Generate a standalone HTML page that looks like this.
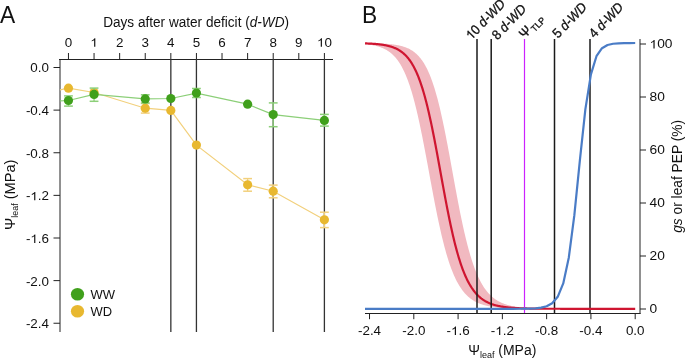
<!DOCTYPE html>
<html><head><meta charset="utf-8"><style>
html,body{margin:0;padding:0;background:#fff;width:685px;height:359px;overflow:hidden;}
svg{display:block;will-change:transform;}
text{font-family:"Liberation Sans", sans-serif;fill:#111;}
path{fill:#111;vector-effect:non-scaling-stroke;}
</style></head><body>
<svg width="685" height="359" viewBox="0 0 685 359">
<text transform="translate(0,22.7) scale(0.99,1)" font-size="23">A</text>
<text x="103.2" y="26.8" font-size="14.7" textLength="185.8" lengthAdjust="spacingAndGlyphs">Days after water deficit (<tspan font-style="italic">d-WD</tspan>)</text>
<line x1="59" y1="59.5" x2="333" y2="59.5" stroke="#222" stroke-width="1"/>
<line x1="68.46" y1="53" x2="68.46" y2="59.5" stroke="#222" stroke-width="1"/>
<g transform="translate(68.46,46.70) scale(1.1,1)"><text x="-3.393" y="0" font-size="12.2">0</text></g>
<line x1="94.05" y1="53" x2="94.05" y2="59.5" stroke="#222" stroke-width="1"/>
<g transform="translate(94.05,46.70) scale(1.1,1)"><text x="-3.393" y="0" font-size="12.2">&#8199;</text><path transform="translate(-3.393,0) scale(0.005957,-0.005957)" d="M763,0L583,0L583,1098Q518,1038 412,979Q307,920 223,890L223,1057Q374,1125 487,1221Q600,1318 647,1409L763,1409Z"/></g>
<line x1="119.65" y1="53" x2="119.65" y2="59.5" stroke="#222" stroke-width="1"/>
<g transform="translate(119.65,46.70) scale(1.1,1)"><text x="-3.393" y="0" font-size="12.2">2</text></g>
<line x1="145.24" y1="53" x2="145.24" y2="59.5" stroke="#222" stroke-width="1"/>
<g transform="translate(145.24,46.70) scale(1.1,1)"><text x="-3.393" y="0" font-size="12.2">3</text></g>
<line x1="170.84" y1="53" x2="170.84" y2="59.5" stroke="#222" stroke-width="1"/>
<g transform="translate(170.84,46.70) scale(1.1,1)"><text x="-3.393" y="0" font-size="12.2">4</text></g>
<line x1="196.43" y1="53" x2="196.43" y2="59.5" stroke="#222" stroke-width="1"/>
<g transform="translate(196.43,46.70) scale(1.1,1)"><text x="-3.393" y="0" font-size="12.2">5</text></g>
<line x1="222.02" y1="53" x2="222.02" y2="59.5" stroke="#222" stroke-width="1"/>
<g transform="translate(222.02,46.70) scale(1.1,1)"><text x="-3.393" y="0" font-size="12.2">6</text></g>
<line x1="247.62" y1="53" x2="247.62" y2="59.5" stroke="#222" stroke-width="1"/>
<g transform="translate(247.62,46.70) scale(1.1,1)"><text x="-3.393" y="0" font-size="12.2">7</text></g>
<line x1="273.21" y1="53" x2="273.21" y2="59.5" stroke="#222" stroke-width="1"/>
<g transform="translate(273.21,46.70) scale(1.1,1)"><text x="-3.393" y="0" font-size="12.2">8</text></g>
<line x1="298.81" y1="53" x2="298.81" y2="59.5" stroke="#222" stroke-width="1"/>
<g transform="translate(298.81,46.70) scale(1.1,1)"><text x="-3.393" y="0" font-size="12.2">9</text></g>
<line x1="324.40" y1="53" x2="324.40" y2="59.5" stroke="#222" stroke-width="1"/>
<g transform="translate(324.40,46.70) scale(1.1,1)"><text x="-6.785" y="0" font-size="12.2">&#8199;0</text><path transform="translate(-6.785,0) scale(0.005957,-0.005957)" d="M763,0L583,0L583,1098Q518,1038 412,979Q307,920 223,890L223,1057Q374,1125 487,1221Q600,1318 647,1409L763,1409Z"/></g>
<line x1="60" y1="59" x2="60" y2="332" stroke="#222" stroke-width="1"/>
<line x1="53.5" y1="67.50" x2="60" y2="67.50" stroke="#222" stroke-width="1"/>
<g transform="translate(49.00,72.40) scale(1.1,1)"><text x="-16.960" y="0" font-size="12.2">0.0</text></g>
<line x1="53.5" y1="110.12" x2="60" y2="110.12" stroke="#222" stroke-width="1"/>
<g transform="translate(49.00,115.02) scale(1.1,1)"><text x="-21.022" y="0" font-size="12.2">-0.4</text></g>
<line x1="53.5" y1="152.75" x2="60" y2="152.75" stroke="#222" stroke-width="1"/>
<g transform="translate(49.00,157.65) scale(1.1,1)"><text x="-21.022" y="0" font-size="12.2">-0.8</text></g>
<line x1="53.5" y1="195.37" x2="60" y2="195.37" stroke="#222" stroke-width="1"/>
<g transform="translate(49.00,200.27) scale(1.1,1)"><text x="-21.022" y="0" font-size="12.2">-&#8199;.2</text><path transform="translate(-16.960,0) scale(0.005957,-0.005957)" d="M763,0L583,0L583,1098Q518,1038 412,979Q307,920 223,890L223,1057Q374,1125 487,1221Q600,1318 647,1409L763,1409Z"/></g>
<line x1="53.5" y1="238.00" x2="60" y2="238.00" stroke="#222" stroke-width="1"/>
<g transform="translate(49.00,242.90) scale(1.1,1)"><text x="-21.022" y="0" font-size="12.2">-&#8199;.6</text><path transform="translate(-16.960,0) scale(0.005957,-0.005957)" d="M763,0L583,0L583,1098Q518,1038 412,979Q307,920 223,890L223,1057Q374,1125 487,1221Q600,1318 647,1409L763,1409Z"/></g>
<line x1="53.5" y1="280.62" x2="60" y2="280.62" stroke="#222" stroke-width="1"/>
<g transform="translate(49.00,285.52) scale(1.1,1)"><text x="-21.022" y="0" font-size="12.2">-2.0</text></g>
<line x1="53.5" y1="323.24" x2="60" y2="323.24" stroke="#222" stroke-width="1"/>
<g transform="translate(49.00,328.14) scale(1.1,1)"><text x="-21.022" y="0" font-size="12.2">-2.4</text></g>
<text transform="translate(14.5,194.8) rotate(-90)" text-anchor="middle" font-size="14.6">&#936;<tspan font-size="9" dy="3">leaf</tspan><tspan dy="-3"> (MPa)</tspan></text>
<line x1="170.84" y1="59" x2="170.84" y2="332" stroke="#333" stroke-width="1.3"/>
<line x1="196.43" y1="59" x2="196.43" y2="332" stroke="#333" stroke-width="1.3"/>
<line x1="273.21" y1="59" x2="273.21" y2="332" stroke="#333" stroke-width="1.3"/>
<line x1="324.40" y1="59" x2="324.40" y2="332" stroke="#333" stroke-width="1.3"/>
<polyline points="60.00,89.90 68.46,88.20 94.05,92.50 145.24,108.20 170.84,110.40 196.43,145.10 247.62,184.80 273.21,191.20 324.40,219.80" fill="none" stroke="#f2d07c" stroke-width="1.2"/>
<line x1="145.24" y1="103.50" x2="145.24" y2="113.10" stroke="#f2d07c" stroke-width="1.3"/>
<line x1="140.84" y1="103.50" x2="149.64" y2="103.50" stroke="#f2d07c" stroke-width="1.5"/>
<line x1="140.84" y1="113.10" x2="149.64" y2="113.10" stroke="#f2d07c" stroke-width="1.5"/>
<line x1="247.62" y1="178.60" x2="247.62" y2="191.20" stroke="#f2d07c" stroke-width="1.3"/>
<line x1="243.22" y1="178.60" x2="252.02" y2="178.60" stroke="#f2d07c" stroke-width="1.5"/>
<line x1="243.22" y1="191.20" x2="252.02" y2="191.20" stroke="#f2d07c" stroke-width="1.5"/>
<line x1="273.21" y1="185.10" x2="273.21" y2="197.80" stroke="#f2d07c" stroke-width="1.3"/>
<line x1="268.81" y1="185.10" x2="277.61" y2="185.10" stroke="#f2d07c" stroke-width="1.5"/>
<line x1="268.81" y1="197.80" x2="277.61" y2="197.80" stroke="#f2d07c" stroke-width="1.5"/>
<line x1="324.40" y1="212.20" x2="324.40" y2="227.60" stroke="#f2d07c" stroke-width="1.3"/>
<line x1="320.00" y1="212.20" x2="328.80" y2="212.20" stroke="#f2d07c" stroke-width="1.5"/>
<line x1="320.00" y1="227.60" x2="328.80" y2="227.60" stroke="#f2d07c" stroke-width="1.5"/>
<circle cx="68.46" cy="88.20" r="4.6" fill="#e8b830"/>
<circle cx="94.05" cy="92.50" r="4.6" fill="#e8b830"/>
<circle cx="145.24" cy="108.20" r="4.6" fill="#e8b830"/>
<circle cx="170.84" cy="110.40" r="4.6" fill="#e8b830"/>
<circle cx="196.43" cy="145.10" r="4.6" fill="#e8b830"/>
<circle cx="247.62" cy="184.80" r="4.6" fill="#e8b830"/>
<circle cx="273.21" cy="191.20" r="4.6" fill="#e8b830"/>
<circle cx="324.40" cy="219.80" r="4.6" fill="#e8b830"/>
<polyline points="60.00,100.90 68.46,100.50 94.05,94.40 145.24,98.90 170.84,98.50 196.43,93.10 247.62,104.20 273.21,114.60 324.40,120.40" fill="none" stroke="#8ccf78" stroke-width="1.2"/>
<line x1="68.46" y1="95.90" x2="68.46" y2="106.10" stroke="#8ccf78" stroke-width="1.3"/>
<line x1="64.06" y1="95.90" x2="72.86" y2="95.90" stroke="#8ccf78" stroke-width="1.5"/>
<line x1="64.06" y1="106.10" x2="72.86" y2="106.10" stroke="#8ccf78" stroke-width="1.5"/>
<line x1="94.05" y1="88.10" x2="94.05" y2="101.30" stroke="#8ccf78" stroke-width="1.3"/>
<line x1="89.65" y1="88.10" x2="98.45" y2="88.10" stroke="#8ccf78" stroke-width="1.5"/>
<line x1="89.65" y1="101.30" x2="98.45" y2="101.30" stroke="#8ccf78" stroke-width="1.5"/>
<line x1="145.24" y1="94.80" x2="145.24" y2="103.00" stroke="#8ccf78" stroke-width="1.3"/>
<line x1="140.84" y1="94.80" x2="149.64" y2="94.80" stroke="#8ccf78" stroke-width="1.5"/>
<line x1="140.84" y1="103.00" x2="149.64" y2="103.00" stroke="#8ccf78" stroke-width="1.5"/>
<line x1="196.43" y1="88.50" x2="196.43" y2="97.50" stroke="#8ccf78" stroke-width="1.3"/>
<line x1="192.03" y1="88.50" x2="200.83" y2="88.50" stroke="#8ccf78" stroke-width="1.5"/>
<line x1="192.03" y1="97.50" x2="200.83" y2="97.50" stroke="#8ccf78" stroke-width="1.5"/>
<line x1="273.21" y1="102.90" x2="273.21" y2="126.70" stroke="#8ccf78" stroke-width="1.3"/>
<line x1="268.81" y1="102.90" x2="277.61" y2="102.90" stroke="#8ccf78" stroke-width="1.5"/>
<line x1="268.81" y1="126.70" x2="277.61" y2="126.70" stroke="#8ccf78" stroke-width="1.5"/>
<line x1="324.40" y1="114.40" x2="324.40" y2="126.10" stroke="#8ccf78" stroke-width="1.3"/>
<line x1="320.00" y1="114.40" x2="328.80" y2="114.40" stroke="#8ccf78" stroke-width="1.5"/>
<line x1="320.00" y1="126.10" x2="328.80" y2="126.10" stroke="#8ccf78" stroke-width="1.5"/>
<circle cx="68.46" cy="100.50" r="4.6" fill="#40a01c"/>
<circle cx="94.05" cy="94.40" r="4.6" fill="#40a01c"/>
<circle cx="145.24" cy="98.90" r="4.6" fill="#40a01c"/>
<circle cx="170.84" cy="98.50" r="4.6" fill="#40a01c"/>
<circle cx="196.43" cy="93.10" r="4.6" fill="#40a01c"/>
<circle cx="247.62" cy="104.20" r="4.6" fill="#40a01c"/>
<circle cx="273.21" cy="114.60" r="4.6" fill="#40a01c"/>
<circle cx="324.40" cy="120.40" r="4.6" fill="#40a01c"/>
<ellipse cx="77.5" cy="294.2" rx="6.6" ry="6.3" fill="#40a01c"/>
<ellipse cx="77.5" cy="311.2" rx="6.6" ry="6.3" fill="#e8b830"/>
<text x="90.5" y="299" font-size="12.6" textLength="24.6" lengthAdjust="spacingAndGlyphs">WW</text>
<text x="90.5" y="316" font-size="12.6" textLength="21.6" lengthAdjust="spacingAndGlyphs">WD</text>
<text transform="translate(361.9,22.7) scale(0.99,1)" font-size="23">B</text>
<line x1="554.5" y1="39" x2="554.5" y2="313.5" stroke="#1a1a1a" stroke-width="1.5"/>
<line x1="590.0" y1="39" x2="590.0" y2="313.5" stroke="#1a1a1a" stroke-width="1.5"/>
<polygon points="365.00,44.17 365.50,44.22 366.00,44.27 366.50,44.33 367.00,44.38 367.50,44.44 368.00,44.50 368.50,44.57 369.00,44.64 369.50,44.71 370.00,44.78 370.50,44.86 371.00,44.94 371.50,45.02 372.00,45.10 372.50,45.19 373.00,45.29 373.50,45.39 374.00,45.49 374.50,45.60 375.00,45.71 375.50,45.82 376.00,45.94 376.50,46.07 377.00,46.20 377.50,46.33 378.00,46.48 378.50,46.62 379.00,46.78 379.50,46.94 380.00,47.11 380.50,47.28 381.00,47.46 381.50,47.65 382.00,47.85 382.50,48.05 383.00,48.27 383.50,48.49 384.00,48.72 384.50,48.96 385.00,49.21 385.50,49.47 386.00,49.75 386.50,50.03 387.00,50.32 387.50,50.63 388.00,50.95 388.50,51.28 389.00,51.63 389.50,51.98 390.00,52.36 390.50,52.75 391.00,53.15 391.50,53.57 392.00,54.01 392.50,54.46 393.00,54.93 393.50,55.42 394.00,55.93 394.50,56.46 395.00,57.01 395.50,57.58 396.00,58.17 396.50,58.78 397.00,59.42 397.50,60.08 398.00,60.76 398.50,61.48 399.00,62.21 399.50,62.98 400.00,63.77 400.50,64.59 401.00,65.44 401.50,66.31 402.00,67.22 402.50,68.17 403.00,69.14 403.50,70.15 404.00,71.19 404.50,72.26 405.00,73.38 405.50,74.52 406.00,75.71 406.50,76.93 407.00,78.19 407.50,79.49 408.00,80.83 408.50,82.21 409.00,83.63 409.50,85.09 410.00,86.60 410.50,88.14 411.00,89.73 411.50,91.36 412.00,93.04 412.50,94.76 413.00,96.52 413.50,98.32 414.00,100.17 414.50,102.07 415.00,104.00 415.50,105.98 416.00,108.01 416.50,110.07 417.00,112.18 417.50,114.32 418.00,116.51 418.50,118.74 419.00,121.01 419.50,123.31 420.00,125.65 420.50,128.03 421.00,130.44 421.50,132.88 422.00,135.36 422.50,137.86 423.00,140.39 423.50,142.95 424.00,145.53 424.50,148.14 425.00,150.76 425.50,153.41 426.00,156.07 426.50,158.74 427.00,161.43 427.50,164.12 428.00,166.83 428.50,169.54 429.00,172.25 429.50,174.96 430.00,177.67 430.50,180.38 431.00,183.08 431.50,185.77 432.00,188.45 432.50,191.12 433.00,193.77 433.50,196.41 434.00,199.03 434.50,201.63 435.00,204.20 435.50,206.75 436.00,209.27 436.50,211.77 437.00,214.24 437.50,216.67 438.00,219.07 438.50,221.44 439.00,223.78 439.50,226.08 440.00,228.34 440.50,230.57 441.00,232.75 441.50,234.90 442.00,237.01 442.50,239.08 443.00,241.10 443.50,243.09 444.00,245.04 444.50,246.94 445.00,248.80 445.50,250.62 446.00,252.40 446.50,254.13 447.00,255.83 447.50,257.48 448.00,259.10 448.50,260.67 449.00,262.20 449.50,263.69 450.00,265.15 450.50,266.56 451.00,267.93 451.50,269.27 452.00,270.57 452.50,271.84 453.00,273.06 453.50,274.25 454.00,275.41 454.50,276.53 455.00,277.62 455.50,278.68 456.00,279.70 456.50,280.70 457.00,281.66 457.50,282.59 458.00,283.50 458.50,284.37 459.00,285.22 459.50,286.04 460.00,286.83 460.50,287.60 461.00,288.34 461.50,289.06 462.00,289.75 462.50,290.43 463.00,291.08 463.50,291.70 464.00,292.31 464.50,292.90 465.00,293.46 465.50,294.01 466.00,294.54 466.50,295.05 467.00,295.54 467.50,296.02 468.00,296.48 468.50,296.92 469.00,297.35 469.50,297.76 470.00,298.16 470.50,298.55 471.00,298.92 471.50,299.28 472.00,299.62 472.50,299.96 473.00,300.28 473.50,300.59 474.00,300.89 474.50,301.17 475.00,301.45 475.50,301.72 476.00,301.98 476.50,302.23 477.00,302.47 477.50,302.70 478.00,302.92 478.50,303.14 479.00,303.35 479.50,303.55 480.00,303.74 480.50,303.93 481.00,304.11 481.50,304.28 482.00,304.44 482.50,304.61 483.00,304.76 483.50,304.91 484.00,305.05 484.50,305.19 485.00,305.32 485.50,305.45 486.00,305.57 486.50,305.69 487.00,305.81 487.50,305.92 488.00,306.03 488.50,306.13 489.00,306.23 489.50,306.32 490.00,306.41 490.50,306.50 491.00,306.59 491.50,306.67 492.00,306.75 492.50,306.82 493.00,306.90 493.50,306.97 494.00,307.03 494.50,307.10 495.00,307.16 495.50,307.22 496.00,307.28 496.50,307.34 497.00,307.39 497.50,307.44 498.00,307.49 498.50,307.54 499.00,307.59 499.50,307.63 500.00,307.68 500.50,307.72 501.00,307.76 501.50,307.80 502.00,307.84 502.50,307.87 503.00,307.91 503.50,307.94 504.00,307.97 504.50,308.00 505.00,308.03 505.50,308.06 506.00,308.09 506.50,308.11 507.00,308.14 507.50,308.16 508.00,308.19 508.50,308.21 509.00,308.23 509.50,308.25 510.00,308.27 510.50,308.29 511.00,308.31 511.50,308.33 512.00,308.35 512.50,308.36 513.00,308.38 513.50,308.40 514.00,308.41 514.50,308.43 515.00,308.44 515.50,308.45 516.00,308.47 516.50,308.48 517.00,308.49 517.50,308.50 518.00,308.51 518.50,308.52 519.00,308.53 519.50,308.54 520.00,308.55 520.50,308.56 521.00,308.57 521.50,308.58 522.00,308.59 522.50,308.60 523.00,308.60 523.50,308.61 524.00,308.62 524.50,308.62 525.00,308.63 525.50,308.64 526.00,308.64 526.50,308.65 527.00,308.65 527.50,308.66 528.00,308.67 528.50,308.67 529.00,308.68 529.50,308.68 530.00,308.68 530.50,308.69 531.00,308.69 531.50,308.70 532.00,308.70 532.50,308.70 533.00,308.71 533.50,308.71 534.00,308.71 534.50,308.72 535.00,308.72 535.50,308.72 536.00,308.73 536.50,308.73 537.00,308.73 537.50,308.73 538.00,308.74 538.50,308.74 539.00,308.74 539.50,308.74 540.00,308.75 540.50,308.75 541.00,308.75 541.50,308.75 542.00,308.75 542.50,308.76 543.00,308.76 543.50,308.76 544.00,308.76 544.50,308.76 545.00,308.76 545.50,308.76 546.00,308.77 546.50,308.77 547.00,308.77 547.50,308.77 548.00,308.77 548.50,308.77 549.00,308.77 549.50,308.77 550.00,308.77 550.50,308.78 551.00,308.78 551.50,308.78 552.00,308.78 552.50,308.78 553.00,308.78 553.50,308.78 554.00,308.78 554.50,308.78 555.00,308.78 555.50,308.78 556.00,308.78 556.50,308.78 557.00,308.79 557.50,308.79 558.00,308.79 558.50,308.79 559.00,308.79 559.50,308.79 560.00,308.79 560.50,308.79 561.00,308.79 561.50,308.79 562.00,308.79 562.50,308.79 563.00,308.79 563.50,308.79 564.00,308.79 564.50,308.79 565.00,308.79 565.50,308.79 566.00,308.79 566.50,308.79 567.00,308.79 567.50,308.79 568.00,308.79 568.50,308.79 569.00,308.79 569.50,308.79 570.00,308.79 570.50,308.79 571.00,308.79 571.50,308.80 572.00,308.80 572.50,308.80 573.00,308.80 573.50,308.80 574.00,308.80 574.50,308.80 575.00,308.80 575.50,308.80 576.00,308.80 576.50,308.80 577.00,308.80 577.50,308.80 578.00,308.80 578.50,308.80 579.00,308.80 579.50,308.80 580.00,308.80 580.50,308.80 581.00,308.80 581.50,308.80 582.00,308.80 582.50,308.80 583.00,308.80 583.50,308.80 584.00,308.80 584.50,308.80 585.00,308.80 585.50,308.80 586.00,308.80 586.50,308.80 587.00,308.80 587.50,308.80 588.00,308.80 588.50,308.80 589.00,308.80 589.50,308.80 590.00,308.80 590.50,308.80 591.00,308.80 591.50,308.80 592.00,308.80 592.50,308.80 593.00,308.80 593.50,308.80 594.00,308.80 594.50,308.80 595.00,308.80 595.50,308.80 596.00,308.80 596.50,308.80 597.00,308.80 597.50,308.80 598.00,308.80 598.50,308.80 599.00,308.80 599.50,308.80 600.00,308.80 600.50,308.80 601.00,308.80 601.50,308.80 602.00,308.80 602.50,308.80 603.00,308.80 603.50,308.80 604.00,308.80 604.50,308.80 605.00,308.80 605.50,308.80 606.00,308.80 606.50,308.80 607.00,308.80 607.50,308.80 608.00,308.80 608.50,308.80 609.00,308.80 609.50,308.80 610.00,308.80 610.50,308.80 611.00,308.80 611.50,308.80 612.00,308.80 612.50,308.80 613.00,308.80 613.50,308.80 614.00,308.80 614.50,308.80 615.00,308.80 615.50,308.80 616.00,308.80 616.50,308.80 617.00,308.80 617.50,308.80 618.00,308.80 618.50,308.80 619.00,308.80 619.50,308.80 620.00,308.80 620.50,308.80 621.00,308.80 621.50,308.80 622.00,308.80 622.50,308.80 623.00,308.80 623.50,308.80 624.00,308.80 624.50,308.80 625.00,308.80 625.50,308.80 626.00,308.80 626.50,308.80 627.00,308.80 627.50,308.80 628.00,308.80 628.50,308.80 629.00,308.80 629.50,308.80 630.00,308.80 630.50,308.80 631.00,308.80 631.50,308.80 632.00,308.80 632.50,308.80 633.00,308.80 633.50,308.80 634.00,308.80 634.50,308.80 635.00,308.80 635.20,308.80 635.20,308.80 635.00,308.80 634.50,308.80 634.00,308.80 633.50,308.80 633.00,308.80 632.50,308.80 632.00,308.80 631.50,308.80 631.00,308.80 630.50,308.80 630.00,308.80 629.50,308.80 629.00,308.80 628.50,308.80 628.00,308.80 627.50,308.80 627.00,308.80 626.50,308.80 626.00,308.80 625.50,308.80 625.00,308.80 624.50,308.80 624.00,308.80 623.50,308.80 623.00,308.80 622.50,308.80 622.00,308.80 621.50,308.80 621.00,308.80 620.50,308.80 620.00,308.80 619.50,308.80 619.00,308.80 618.50,308.80 618.00,308.80 617.50,308.80 617.00,308.80 616.50,308.80 616.00,308.80 615.50,308.80 615.00,308.80 614.50,308.80 614.00,308.80 613.50,308.80 613.00,308.80 612.50,308.80 612.00,308.80 611.50,308.80 611.00,308.80 610.50,308.80 610.00,308.80 609.50,308.80 609.00,308.80 608.50,308.80 608.00,308.80 607.50,308.80 607.00,308.80 606.50,308.80 606.00,308.80 605.50,308.80 605.00,308.80 604.50,308.80 604.00,308.80 603.50,308.80 603.00,308.80 602.50,308.80 602.00,308.80 601.50,308.80 601.00,308.80 600.50,308.80 600.00,308.80 599.50,308.80 599.00,308.80 598.50,308.80 598.00,308.80 597.50,308.79 597.00,308.79 596.50,308.79 596.00,308.79 595.50,308.79 595.00,308.79 594.50,308.79 594.00,308.79 593.50,308.79 593.00,308.79 592.50,308.79 592.00,308.79 591.50,308.79 591.00,308.79 590.50,308.79 590.00,308.79 589.50,308.79 589.00,308.79 588.50,308.79 588.00,308.79 587.50,308.79 587.00,308.79 586.50,308.79 586.00,308.79 585.50,308.79 585.00,308.79 584.50,308.79 584.00,308.79 583.50,308.79 583.00,308.79 582.50,308.78 582.00,308.78 581.50,308.78 581.00,308.78 580.50,308.78 580.00,308.78 579.50,308.78 579.00,308.78 578.50,308.78 578.00,308.78 577.50,308.78 577.00,308.78 576.50,308.78 576.00,308.77 575.50,308.77 575.00,308.77 574.50,308.77 574.00,308.77 573.50,308.77 573.00,308.77 572.50,308.77 572.00,308.77 571.50,308.77 571.00,308.76 570.50,308.76 570.00,308.76 569.50,308.76 569.00,308.76 568.50,308.76 568.00,308.75 567.50,308.75 567.00,308.75 566.50,308.75 566.00,308.75 565.50,308.75 565.00,308.74 564.50,308.74 564.00,308.74 563.50,308.74 563.00,308.73 562.50,308.73 562.00,308.73 561.50,308.73 561.00,308.72 560.50,308.72 560.00,308.72 559.50,308.72 559.00,308.71 558.50,308.71 558.00,308.71 557.50,308.70 557.00,308.70 556.50,308.69 556.00,308.69 555.50,308.69 555.00,308.68 554.50,308.68 554.00,308.67 553.50,308.67 553.00,308.66 552.50,308.66 552.00,308.65 551.50,308.65 551.00,308.64 550.50,308.64 550.00,308.63 549.50,308.62 549.00,308.62 548.50,308.61 548.00,308.60 547.50,308.59 547.00,308.59 546.50,308.58 546.00,308.57 545.50,308.56 545.00,308.55 544.50,308.54 544.00,308.53 543.50,308.52 543.00,308.51 542.50,308.50 542.00,308.49 541.50,308.48 541.00,308.47 540.50,308.46 540.00,308.44 539.50,308.43 539.00,308.42 538.50,308.40 538.00,308.39 537.50,308.37 537.00,308.35 536.50,308.34 536.00,308.32 535.50,308.30 535.00,308.28 534.50,308.26 534.00,308.24 533.50,308.22 533.00,308.20 532.50,308.18 532.00,308.15 531.50,308.13 531.00,308.11 530.50,308.08 530.00,308.05 529.50,308.02 529.00,307.99 528.50,307.96 528.00,307.93 527.50,307.90 527.00,307.87 526.50,307.83 526.00,307.80 525.50,307.76 525.00,307.72 524.50,307.68 524.00,307.64 523.50,307.59 523.00,307.55 522.50,307.50 522.00,307.45 521.50,307.40 521.00,307.35 520.50,307.29 520.00,307.24 519.50,307.18 519.00,307.12 518.50,307.05 518.00,306.99 517.50,306.92 517.00,306.85 516.50,306.78 516.00,306.70 515.50,306.62 515.00,306.54 514.50,306.46 514.00,306.37 513.50,306.28 513.00,306.18 512.50,306.09 512.00,305.98 511.50,305.88 511.00,305.77 510.50,305.66 510.00,305.54 509.50,305.42 509.00,305.29 508.50,305.16 508.00,305.02 507.50,304.88 507.00,304.74 506.50,304.58 506.00,304.43 505.50,304.26 505.00,304.09 504.50,303.92 504.00,303.74 503.50,303.55 503.00,303.35 502.50,303.15 502.00,302.94 501.50,302.72 501.00,302.50 500.50,302.26 500.00,302.02 499.50,301.77 499.00,301.51 498.50,301.24 498.00,300.96 497.50,300.67 497.00,300.37 496.50,300.05 496.00,299.73 495.50,299.40 495.00,299.05 494.50,298.69 494.00,298.32 493.50,297.93 493.00,297.54 492.50,297.12 492.00,296.69 491.50,296.25 491.00,295.79 490.50,295.32 490.00,294.83 489.50,294.32 489.00,293.79 488.50,293.25 488.00,292.68 487.50,292.10 487.00,291.50 486.50,290.87 486.00,290.23 485.50,289.56 485.00,288.87 484.50,288.16 484.00,287.42 483.50,286.66 483.00,285.87 482.50,285.06 482.00,284.22 481.50,283.35 481.00,282.45 480.50,281.53 480.00,280.58 479.50,279.59 479.00,278.58 478.50,277.53 478.00,276.45 477.50,275.34 477.00,274.19 476.50,273.01 476.00,271.80 475.50,270.55 475.00,269.26 474.50,267.93 474.00,266.57 473.50,265.17 473.00,263.73 472.50,262.25 472.00,260.73 471.50,259.17 471.00,257.56 470.50,255.92 470.00,254.24 469.50,252.51 469.00,250.74 468.50,248.93 468.00,247.08 467.50,245.19 467.00,243.25 466.50,241.27 466.00,239.25 465.50,237.18 465.00,235.08 464.50,232.93 464.00,230.75 463.50,228.52 463.00,226.26 462.50,223.95 462.00,221.61 461.50,219.24 461.00,216.83 460.50,214.38 460.00,211.90 459.50,209.39 459.00,206.85 458.50,204.29 458.00,201.69 457.50,199.08 457.00,196.44 456.50,193.77 456.00,191.09 455.50,188.40 455.00,185.69 454.50,182.96 454.00,180.23 453.50,177.49 453.00,174.74 452.50,171.99 452.00,169.24 451.50,166.50 451.00,163.75 450.50,161.02 450.00,158.29 449.50,155.57 449.00,152.87 448.50,150.18 448.00,147.51 447.50,144.87 447.00,142.24 446.50,139.64 446.00,137.07 445.50,134.52 445.00,132.01 444.50,129.52 444.00,127.07 443.50,124.66 443.00,122.28 442.50,119.94 442.00,117.64 441.50,115.38 441.00,113.17 440.50,110.99 440.00,108.85 439.50,106.76 439.00,104.72 438.50,102.72 438.00,100.76 437.50,98.85 437.00,96.98 436.50,95.16 436.00,93.39 435.50,91.66 435.00,89.98 434.50,88.34 434.00,86.74 433.50,85.19 433.00,83.69 432.50,82.23 432.00,80.81 431.50,79.43 431.00,78.09 430.50,76.80 430.00,75.55 429.50,74.33 429.00,73.16 428.50,72.02 428.00,70.92 427.50,69.86 427.00,68.83 426.50,67.84 426.00,66.88 425.50,65.95 425.00,65.06 424.50,64.20 424.00,63.37 423.50,62.57 423.00,61.79 422.50,61.05 422.00,60.33 421.50,59.64 421.00,58.98 420.50,58.34 420.00,57.72 419.50,57.13 419.00,56.56 418.50,56.01 418.00,55.48 417.50,54.97 417.00,54.48 416.50,54.02 416.00,53.56 415.50,53.13 415.00,52.72 414.50,52.32 414.00,51.93 413.50,51.56 413.00,51.21 412.50,50.87 412.00,50.54 411.50,50.23 411.00,49.93 410.50,49.64 410.00,49.37 409.50,49.10 409.00,48.85 408.50,48.60 408.00,48.37 407.50,48.14 407.00,47.93 406.50,47.72 406.00,47.52 405.50,47.33 405.00,47.15 404.50,46.98 404.00,46.81 403.50,46.65 403.00,46.49 402.50,46.35 402.00,46.21 401.50,46.07 401.00,45.94 400.50,45.82 400.00,45.70 399.50,45.58 399.00,45.47 398.50,45.37 398.00,45.27 397.50,45.17 397.00,45.08 396.50,44.99 396.00,44.91 395.50,44.83 395.00,44.75 394.50,44.67 394.00,44.60 393.50,44.54 393.00,44.47 392.50,44.41 392.00,44.35 391.50,44.29 391.00,44.24 390.50,44.18 390.00,44.13 389.50,44.08 389.00,44.04 388.50,43.99 388.00,43.95 387.50,43.91 387.00,43.87 386.50,43.84 386.00,43.80 385.50,43.77 385.00,43.73 384.50,43.70 384.00,43.67 383.50,43.64 383.00,43.62 382.50,43.59 382.00,43.56 381.50,43.54 381.00,43.52 380.50,43.49 380.00,43.47 379.50,43.45 379.00,43.43 378.50,43.42 378.00,43.40 377.50,43.38 377.00,43.36 376.50,43.35 376.00,43.33 375.50,43.32 375.00,43.31 374.50,43.29 374.00,43.28 373.50,43.27 373.00,43.26 372.50,43.25 372.00,43.24 371.50,43.23 371.00,43.22 370.50,43.21 370.00,43.20 369.50,43.19 369.00,43.18 368.50,43.17 368.00,43.17 367.50,43.16 367.00,43.15 366.50,43.15 366.00,43.14 365.50,43.13 365.00,43.13" fill="#f1b9c0"/>
<polyline points="365.00,43.39 365.50,43.41 366.00,43.43 366.50,43.45 367.00,43.47 367.50,43.49 368.00,43.51 368.50,43.53 369.00,43.56 369.50,43.58 370.00,43.61 370.50,43.63 371.00,43.66 371.50,43.69 372.00,43.72 372.50,43.75 373.00,43.78 373.50,43.82 374.00,43.85 374.50,43.89 375.00,43.93 375.50,43.97 376.00,44.01 376.50,44.06 377.00,44.10 377.50,44.15 378.00,44.20 378.50,44.26 379.00,44.31 379.50,44.37 380.00,44.43 380.50,44.49 381.00,44.56 381.50,44.62 382.00,44.70 382.50,44.77 383.00,44.85 383.50,44.93 384.00,45.01 384.50,45.10 385.00,45.19 385.50,45.29 386.00,45.39 386.50,45.49 387.00,45.60 387.50,45.71 388.00,45.83 388.50,45.95 389.00,46.08 389.50,46.21 390.00,46.35 390.50,46.50 391.00,46.65 391.50,46.81 392.00,46.97 392.50,47.15 393.00,47.33 393.50,47.51 394.00,47.71 394.50,47.91 395.00,48.12 395.50,48.34 396.00,48.57 396.50,48.81 397.00,49.06 397.50,49.32 398.00,49.59 398.50,49.87 399.00,50.17 399.50,50.47 400.00,50.79 400.50,51.13 401.00,51.47 401.50,51.83 402.00,52.20 402.50,52.59 403.00,53.00 403.50,53.42 404.00,53.86 404.50,54.32 405.00,54.79 405.50,55.28 406.00,55.80 406.50,56.33 407.00,56.88 407.50,57.46 408.00,58.06 408.50,58.68 409.00,59.33 409.50,59.99 410.00,60.69 410.50,61.41 411.00,62.16 411.50,62.94 412.00,63.74 412.50,64.57 413.00,65.44 413.50,66.34 414.00,67.26 414.50,68.22 415.00,69.22 415.50,70.25 416.00,71.31 416.50,72.41 417.00,73.55 417.50,74.72 418.00,75.94 418.50,77.19 419.00,78.48 419.50,79.81 420.00,81.19 420.50,82.60 421.00,84.06 421.50,85.56 422.00,87.11 422.50,88.70 423.00,90.33 423.50,92.01 424.00,93.73 424.50,95.50 425.00,97.31 425.50,99.17 426.00,101.08 426.50,103.02 427.00,105.02 427.50,107.05 428.00,109.14 428.50,111.26 429.00,113.43 429.50,115.64 430.00,117.89 430.50,120.18 431.00,122.51 431.50,124.88 432.00,127.29 432.50,129.73 433.00,132.21 433.50,134.72 434.00,137.26 434.50,139.83 435.00,142.42 435.50,145.04 436.00,147.69 436.50,150.35 437.00,153.04 437.50,155.74 438.00,158.46 438.50,161.19 439.00,163.93 439.50,166.68 440.00,169.43 440.50,172.18 441.00,174.94 441.50,177.69 442.00,180.44 442.50,183.19 443.00,185.92 443.50,188.65 444.00,191.36 444.50,194.05 445.00,196.73 445.50,199.38 446.00,202.02 446.50,204.63 447.00,207.21 447.50,209.77 448.00,212.30 448.50,214.79 449.00,217.26 449.50,219.69 450.00,222.08 450.50,224.44 451.00,226.77 451.50,229.05 452.00,231.30 452.50,233.50 453.00,235.67 453.50,237.79 454.00,239.87 454.50,241.91 455.00,243.91 455.50,245.86 456.00,247.77 456.50,249.64 457.00,251.47 457.50,253.25 458.00,254.99 458.50,256.69 459.00,258.34 459.50,259.95 460.00,261.52 460.50,263.05 461.00,264.54 461.50,265.99 462.00,267.40 462.50,268.77 463.00,270.10 463.50,271.39 464.00,272.65 464.50,273.87 465.00,275.05 465.50,276.20 466.00,277.31 466.50,278.39 467.00,279.44 467.50,280.45 468.00,281.43 468.50,282.38 469.00,283.31 469.50,284.20 470.00,285.06 470.50,285.90 471.00,286.70 471.50,287.48 472.00,288.24 472.50,288.97 473.00,289.68 473.50,290.36 474.00,291.02 474.50,291.66 475.00,292.27 475.50,292.87 476.00,293.44 476.50,293.99 477.00,294.53 477.50,295.05 478.00,295.54 478.50,296.03 479.00,296.49 479.50,296.94 480.00,297.37 480.50,297.79 481.00,298.19 481.50,298.58 482.00,298.95 482.50,299.32 483.00,299.66 483.50,300.00 484.00,300.32 484.50,300.63 485.00,300.94 485.50,301.23 486.00,301.51 486.50,301.77 487.00,302.03 487.50,302.28 488.00,302.53 488.50,302.76 489.00,302.98 489.50,303.20 490.00,303.40 490.50,303.61 491.00,303.80 491.50,303.98 492.00,304.16 492.50,304.34 493.00,304.50 493.50,304.66 494.00,304.82 494.50,304.96 495.00,305.11 495.50,305.24 496.00,305.38 496.50,305.50 497.00,305.63 497.50,305.75 498.00,305.86 498.50,305.97 499.00,306.08 499.50,306.18 500.00,306.27 500.50,306.37 501.00,306.46 501.50,306.55 502.00,306.63 502.50,306.71 503.00,306.79 503.50,306.87 504.00,306.94 504.50,307.01 505.00,307.08 505.50,307.14 506.00,307.20 506.50,307.26 507.00,307.32 507.50,307.37 508.00,307.43 508.50,307.48 509.00,307.53 509.50,307.58 510.00,307.62 510.50,307.67 511.00,307.71 511.50,307.75 512.00,307.79 512.50,307.83 513.00,307.86 513.50,307.90 514.00,307.93 514.50,307.97 515.00,308.00 515.50,308.03 516.00,308.06 516.50,308.08 517.00,308.11 517.50,308.14 518.00,308.16 518.50,308.19 519.00,308.21 519.50,308.23 520.00,308.25 520.50,308.27 521.00,308.29 521.50,308.31 522.00,308.33 522.50,308.35 523.00,308.36 523.50,308.38 524.00,308.40 524.50,308.41 525.00,308.43 525.50,308.44 526.00,308.45 526.50,308.47 527.00,308.48 527.50,308.49 528.00,308.50 528.50,308.51 529.00,308.52 529.50,308.53 530.00,308.54 530.50,308.55 531.00,308.56 531.50,308.57 532.00,308.58 532.50,308.59 533.00,308.60 533.50,308.60 534.00,308.61 534.50,308.62 535.00,308.63 535.50,308.63 536.00,308.64 536.50,308.64 537.00,308.65 537.50,308.66 538.00,308.66 538.50,308.67 539.00,308.67 539.50,308.68 540.00,308.68 540.50,308.69 541.00,308.69 541.50,308.69 542.00,308.70 542.50,308.70 543.00,308.71 543.50,308.71 544.00,308.71 544.50,308.72 545.00,308.72 545.50,308.72 546.00,308.73 546.50,308.73 547.00,308.73 547.50,308.73 548.00,308.74 548.50,308.74 549.00,308.74 549.50,308.74 550.00,308.74 550.50,308.75 551.00,308.75 551.50,308.75 552.00,308.75 552.50,308.75 553.00,308.76 553.50,308.76 554.00,308.76 554.50,308.76 555.00,308.76 555.50,308.76 556.00,308.77 556.50,308.77 557.00,308.77 557.50,308.77 558.00,308.77 558.50,308.77 559.00,308.77 559.50,308.77 560.00,308.77 560.50,308.78 561.00,308.78 561.50,308.78 562.00,308.78 562.50,308.78 563.00,308.78 563.50,308.78 564.00,308.78 564.50,308.78 565.00,308.78 565.50,308.78 566.00,308.78 566.50,308.78 567.00,308.78 567.50,308.79 568.00,308.79 568.50,308.79 569.00,308.79 569.50,308.79 570.00,308.79 570.50,308.79 571.00,308.79 571.50,308.79 572.00,308.79 572.50,308.79 573.00,308.79 573.50,308.79 574.00,308.79 574.50,308.79 575.00,308.79 575.50,308.79 576.00,308.79 576.50,308.79 577.00,308.79 577.50,308.79 578.00,308.79 578.50,308.79 579.00,308.79 579.50,308.79 580.00,308.79 580.50,308.79 581.00,308.79 581.50,308.80 582.00,308.80 582.50,308.80 583.00,308.80 583.50,308.80 584.00,308.80 584.50,308.80 585.00,308.80 585.50,308.80 586.00,308.80 586.50,308.80 587.00,308.80 587.50,308.80 588.00,308.80 588.50,308.80 589.00,308.80 589.50,308.80 590.00,308.80 590.50,308.80 591.00,308.80 591.50,308.80 592.00,308.80 592.50,308.80 593.00,308.80 593.50,308.80 594.00,308.80 594.50,308.80 595.00,308.80 595.50,308.80 596.00,308.80 596.50,308.80 597.00,308.80 597.50,308.80 598.00,308.80 598.50,308.80 599.00,308.80 599.50,308.80 600.00,308.80 600.50,308.80 601.00,308.80 601.50,308.80 602.00,308.80 602.50,308.80 603.00,308.80 603.50,308.80 604.00,308.80 604.50,308.80 605.00,308.80 605.50,308.80 606.00,308.80 606.50,308.80 607.00,308.80 607.50,308.80 608.00,308.80 608.50,308.80 609.00,308.80 609.50,308.80 610.00,308.80 610.50,308.80 611.00,308.80 611.50,308.80 612.00,308.80 612.50,308.80 613.00,308.80 613.50,308.80 614.00,308.80 614.50,308.80 615.00,308.80 615.50,308.80 616.00,308.80 616.50,308.80 617.00,308.80 617.50,308.80 618.00,308.80 618.50,308.80 619.00,308.80 619.50,308.80 620.00,308.80 620.50,308.80 621.00,308.80 621.50,308.80 622.00,308.80 622.50,308.80 623.00,308.80 623.50,308.80 624.00,308.80 624.50,308.80 625.00,308.80 625.50,308.80 626.00,308.80 626.50,308.80 627.00,308.80 627.50,308.80 628.00,308.80 628.50,308.80 629.00,308.80 629.50,308.80 630.00,308.80 630.50,308.80 631.00,308.80 631.50,308.80 632.00,308.80 632.50,308.80 633.00,308.80 633.50,308.80 634.00,308.80 634.50,308.80 635.00,308.80 635.20,308.80" fill="none" stroke="#cf1530" stroke-width="2.2" stroke-linejoin="round"/>
<line x1="477.0" y1="39" x2="477.0" y2="313.5" stroke="#1a1a1a" stroke-width="1.5"/>
<line x1="491.2" y1="39" x2="491.2" y2="313.5" stroke="#1a1a1a" stroke-width="1.5"/>
<line x1="524.5" y1="39" x2="524.5" y2="313.5" stroke="#cc22ff" stroke-width="1.2"/>
<polyline points="365.00,308.80 369.52,308.80 375.06,308.80 380.59,308.80 386.13,308.80 391.66,308.80 397.20,308.80 402.73,308.80 408.27,308.80 413.80,308.80 419.34,308.80 424.87,308.80 430.41,308.80 435.94,308.80 441.48,308.80 447.01,308.80 452.55,308.80 458.08,308.80 463.62,308.80 469.15,308.80 474.69,308.80 480.22,308.80 485.76,308.80 491.29,308.80 496.83,308.80 502.36,308.80 507.90,308.79 513.43,308.78 518.97,308.75 524.50,308.70 530.04,308.57 535.57,308.29 541.11,307.67 546.64,306.30 552.18,303.30 557.71,296.83 563.25,283.42 568.78,257.74 574.32,215.39 579.85,160.59 585.39,109.12 590.92,74.32 596.46,56.20 601.99,48.21 607.53,44.99 613.06,43.75 618.60,43.28 624.13,43.10 629.67,43.04 635.20,43.01" fill="none" stroke="#4a7cc6" stroke-width="2.2" stroke-linejoin="round"/>
<line x1="365" y1="313.5" x2="640.5" y2="313.5" stroke="#222" stroke-width="1"/>
<line x1="369.52" y1="313.5" x2="369.52" y2="319.2" stroke="#222" stroke-width="1"/>
<g transform="translate(369.52,335.00) scale(1.1,1)"><text x="-10.511" y="0" font-size="12.2">-2.4</text></g>
<line x1="413.80" y1="313.5" x2="413.80" y2="319.2" stroke="#222" stroke-width="1"/>
<g transform="translate(413.80,335.00) scale(1.1,1)"><text x="-10.511" y="0" font-size="12.2">-2.0</text></g>
<line x1="458.08" y1="313.5" x2="458.08" y2="319.2" stroke="#222" stroke-width="1"/>
<g transform="translate(458.08,335.00) scale(1.1,1)"><text x="-10.511" y="0" font-size="12.2">-&#8199;.6</text><path transform="translate(-6.448,0) scale(0.005957,-0.005957)" d="M763,0L583,0L583,1098Q518,1038 412,979Q307,920 223,890L223,1057Q374,1125 487,1221Q600,1318 647,1409L763,1409Z"/></g>
<line x1="502.36" y1="313.5" x2="502.36" y2="319.2" stroke="#222" stroke-width="1"/>
<g transform="translate(502.36,335.00) scale(1.1,1)"><text x="-10.511" y="0" font-size="12.2">-&#8199;.2</text><path transform="translate(-6.448,0) scale(0.005957,-0.005957)" d="M763,0L583,0L583,1098Q518,1038 412,979Q307,920 223,890L223,1057Q374,1125 487,1221Q600,1318 647,1409L763,1409Z"/></g>
<line x1="546.64" y1="313.5" x2="546.64" y2="319.2" stroke="#222" stroke-width="1"/>
<g transform="translate(546.64,335.00) scale(1.1,1)"><text x="-10.511" y="0" font-size="12.2">-0.8</text></g>
<line x1="590.92" y1="313.5" x2="590.92" y2="319.2" stroke="#222" stroke-width="1"/>
<g transform="translate(590.92,335.00) scale(1.1,1)"><text x="-10.511" y="0" font-size="12.2">-0.4</text></g>
<line x1="635.20" y1="313.5" x2="635.20" y2="319.2" stroke="#222" stroke-width="1"/>
<g transform="translate(635.20,335.00) scale(1.1,1)"><text x="-8.480" y="0" font-size="12.2">0.0</text></g>
<line x1="640" y1="39" x2="640" y2="314" stroke="#222" stroke-width="1"/>
<line x1="640" y1="309.00" x2="646" y2="309.00" stroke="#222" stroke-width="1"/>
<g transform="translate(649.50,313.40) scale(1.13,1)"><text x="0.000" y="0" font-size="12.2">0</text></g>
<line x1="640" y1="256.00" x2="646" y2="256.00" stroke="#222" stroke-width="1"/>
<g transform="translate(649.50,260.40) scale(1.13,1)"><text x="0.000" y="0" font-size="12.2">20</text></g>
<line x1="640" y1="203.00" x2="646" y2="203.00" stroke="#222" stroke-width="1"/>
<g transform="translate(649.50,207.40) scale(1.13,1)"><text x="0.000" y="0" font-size="12.2">40</text></g>
<line x1="640" y1="150.00" x2="646" y2="150.00" stroke="#222" stroke-width="1"/>
<g transform="translate(649.50,154.40) scale(1.13,1)"><text x="0.000" y="0" font-size="12.2">60</text></g>
<line x1="640" y1="97.00" x2="646" y2="97.00" stroke="#222" stroke-width="1"/>
<g transform="translate(649.50,101.40) scale(1.13,1)"><text x="0.000" y="0" font-size="12.2">80</text></g>
<line x1="640" y1="44.00" x2="646" y2="44.00" stroke="#222" stroke-width="1"/>
<g transform="translate(649.50,48.40) scale(1.13,1)"><text x="0.000" y="0" font-size="12.2">&#8199;00</text><path transform="translate(0.000,0) scale(0.005957,-0.005957)" d="M763,0L583,0L583,1098Q518,1038 412,979Q307,920 223,890L223,1057Q374,1125 487,1221Q600,1318 647,1409L763,1409Z"/></g>
<text x="468.2" y="355.0" font-size="14">&#936;<tspan font-size="9" dy="2.8">leaf</tspan><tspan dy="-2.8"> (MPa)</tspan></text>
<text transform="translate(682,176.4) rotate(-90)" text-anchor="middle" font-size="13.75"><tspan font-style="italic">gs</tspan> or leaf PEP (%)</text>
<g transform="translate(471.4,40.5) rotate(-46) scale(0.93,1)" stroke="#111" stroke-width="0.3"><text font-size="13.6">&#8199;0 <tspan font-style="italic">d-WD</tspan></text><path transform="translate(0.000,0) scale(0.006641,-0.006641)" d="M763,0L583,0L583,1098Q518,1038 412,979Q307,920 223,890L223,1057Q374,1125 487,1221Q600,1318 647,1409L763,1409Z"/></g>
<g transform="translate(497.4,40.5) rotate(-46) scale(0.93,1)" stroke="#111" stroke-width="0.3"><text font-size="13.6">8 <tspan font-style="italic">d-WD</tspan></text></g>
<g transform="translate(557.9,38.8) rotate(-46) scale(0.93,1)" stroke="#111" stroke-width="0.3"><text font-size="13.6">5 <tspan font-style="italic">d-WD</tspan></text></g>
<g transform="translate(594.4,38.8) rotate(-46) scale(0.93,1)" stroke="#111" stroke-width="0.3"><text font-size="13.6">4 <tspan font-style="italic">d-WD</tspan></text></g>
<text transform="translate(524.5,39.3) rotate(-46)" font-size="13.6" stroke="#111" stroke-width="0.3">&#936;<tspan font-size="9" dx="0.6" dy="2.6">TLP</tspan></text>
</svg>
</body></html>
